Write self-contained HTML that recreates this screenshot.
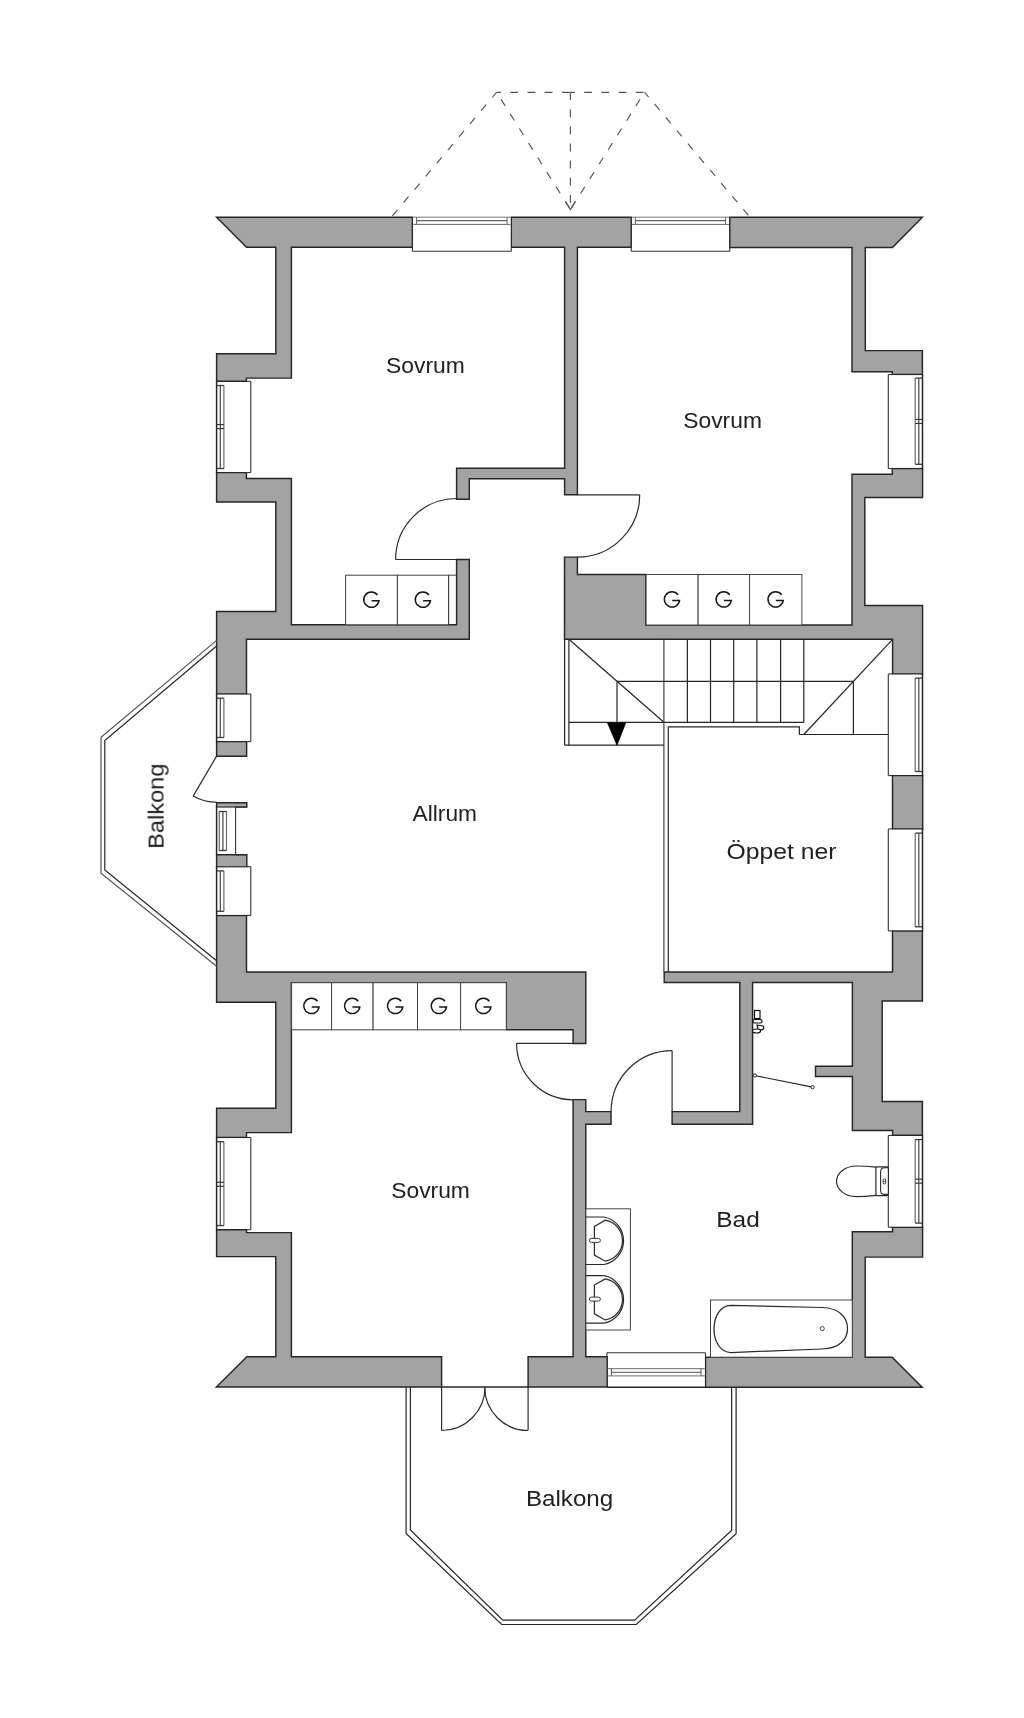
<!DOCTYPE html>
<html><head><meta charset="utf-8"><title>Floor plan</title>
<style>html,body{margin:0;padding:0;background:#fff;width:1024px;height:1718px;overflow:hidden}svg{display:block}</style>
</head><body>
<svg width="1024" height="1718" viewBox="0 0 1024 1718"><path d="M922.7 828.9 L922.7 775.6 L892.5 775.6 L892.5 828.9Z M852 474.2 L852 625 L645.8 625 L645.8 574.5 L577.4 574.5 L577.4 557.1 L564.5 557.1 L564.5 639.3 L892.6 639.3 L892.6 673.9 L922.6 673.9 L922.6 605.5 L864.8 605.5 L864.8 497.5 L922.6 497.5 L922.6 468.5 L892.3 468.5 L892.3 474.2Z M852.3 1231.8 L852.3 1357.2 L705.5 1357.2 L705.5 1387.2 L922.2 1387.2 L892.2 1357.2 L865.2 1357.2 L865.2 1257.1 L922.6 1257.1 L922.6 1227.2 L892.5 1227.2 L892.5 1231.8Z M739.8 982.5 L739.8 1111.6 L672.1 1111.6 L672.1 1124.3 L752.6 1124.3 L752.6 982.5 L852.4 982.5 L852.4 1066.2 L815.5 1066.2 L815.5 1076.5 L852.4 1076.5 L852.4 1130.5 L892.6 1130.5 L892.6 1135.3 L922.4 1135.3 L922.4 1101.5 L882.2 1101.5 L882.2 1001 L922.4 1001 L922.4 930.9 L892.5 930.9 L892.5 971.9 L664.2 971.9 L664.2 982.5Z M852 371.7 L892.3 371.7 L892.3 374.5 L922.4 374.5 L922.4 350.6 L865.3 350.6 L865.3 247.4 L892.5 247.4 L922.3 217.2 L729.8 217.2 L729.8 247.4 L852 247.4Z M456.6 499.2 L469.3 499.2 L469.3 478.7 L564.6 478.7 L564.6 494.8 L577.4 494.8 L577.4 247.3 L631.2 247.3 L631.2 217.2 L511.3 217.2 L511.3 247.3 L564.6 247.3 L564.6 468.3 L456.6 468.3Z M585.8 1124.3 L611 1124.3 L611 1111.6 L585.8 1111.6 L585.8 1099.6 L573.1 1099.6 L573.1 1356.8 L528.1 1356.8 L528.1 1387 L607.2 1387 L607.2 1356.8 L585.8 1356.8Z M216.6 1137.5 L246.5 1137.5 L246.5 1132.6 L291.4 1132.6 L291.4 982.7 L506.3 982.7 L506.3 1029.8 L573.1 1029.8 L573.1 1043.5 L585.8 1043.5 L585.8 971.9 L246.5 971.9 L246.5 915.4 L216.6 915.4 L216.6 1002.3 L275.8 1002.3 L275.8 1108.2 L216.6 1108.2Z M216.6 502 L275.8 502 L275.8 611.5 L216.6 611.5 L216.6 694 L246.5 694 L246.5 639.3 L469.3 639.3 L469.3 559.5 L456.6 559.5 L456.6 624.8 L291.4 624.8 L291.4 478.4 L246.4 478.4 L246.4 472.6 L216.6 472.6Z M216.6 1256.6 L275.8 1256.6 L275.8 1356.8 L246.9 1356.8 L216.4 1387 L441.6 1387 L441.6 1356.8 L291.4 1356.8 L291.4 1232.6 L246.5 1232.6 L246.5 1229.7 L216.6 1229.7Z M216.6 381.3 L246.4 381.3 L246.4 378.1 L291.4 378.1 L291.4 247.3 L412.4 247.3 L412.4 217.2 L216.6 217.2 L246.5 247.3 L275.8 247.3 L275.8 353.7 L216.6 353.7Z M216.6 807.1 L246.8 807.1 L246.8 802.7 L216.6 802.7Z M216.6 866.9 L246.8 866.9 L246.8 854.8 L216.6 854.8Z M216.6 756.2 L246.6 756.2 L246.6 741.6 L216.6 741.6Z" fill="#a3a3a3" fill-rule="evenodd" stroke="#262626" stroke-width="1.45" stroke-linejoin="miter" stroke-miterlimit="10"/>
<rect x="413.2" y="217.9" width="97.3" height="33.4" fill="#fff"/>
<line x1="412.4" y1="247.3" x2="412.4" y2="251.3" stroke="#333" stroke-width="1.1"/>
<line x1="511.3" y1="247.3" x2="511.3" y2="251.3" stroke="#333" stroke-width="1.1"/>
<line x1="412.4" y1="251.3" x2="511.3" y2="251.3" stroke="#333" stroke-width="1.1"/>
<line x1="413.2" y1="217.2" x2="510.5" y2="217.2" stroke="#777" stroke-width="1.0"/>
<line x1="416.6" y1="220.6" x2="507.1" y2="220.6" stroke="#666" stroke-width="1.1"/>
<line x1="413.2" y1="224.4" x2="510.5" y2="224.4" stroke="#6a6a6a" stroke-width="1.0"/>
<line x1="416.6" y1="217.2" x2="416.6" y2="224.4" stroke="#666" stroke-width="1.0"/>
<line x1="507.1" y1="217.2" x2="507.1" y2="224.4" stroke="#666" stroke-width="1.0"/>
<rect x="632" y="217.9" width="97" height="33.4" fill="#fff"/>
<line x1="631.2" y1="247.3" x2="631.2" y2="251.3" stroke="#333" stroke-width="1.1"/>
<line x1="729.8" y1="247.3" x2="729.8" y2="251.3" stroke="#333" stroke-width="1.1"/>
<line x1="631.2" y1="251.3" x2="729.8" y2="251.3" stroke="#333" stroke-width="1.1"/>
<line x1="632" y1="217.2" x2="729" y2="217.2" stroke="#777" stroke-width="1.0"/>
<line x1="635.4" y1="220.6" x2="725.6" y2="220.6" stroke="#666" stroke-width="1.1"/>
<line x1="632" y1="224.4" x2="729" y2="224.4" stroke="#6a6a6a" stroke-width="1.0"/>
<line x1="635.4" y1="217.2" x2="635.4" y2="224.4" stroke="#666" stroke-width="1.0"/>
<line x1="725.6" y1="217.2" x2="725.6" y2="224.4" stroke="#666" stroke-width="1.0"/>
<rect x="217.4" y="382.1" width="32.6" height="89.7" fill="#fff"/>
<line x1="246.5" y1="381.3" x2="250.8" y2="381.3" stroke="#333" stroke-width="1.1"/>
<line x1="246.5" y1="472.6" x2="250.8" y2="472.6" stroke="#333" stroke-width="1.1"/>
<line x1="250.8" y1="381.3" x2="250.8" y2="472.6" stroke="#333" stroke-width="1.1"/>
<line x1="220.3" y1="385.5" x2="220.3" y2="468.5" stroke="#444" stroke-width="1.2"/>
<line x1="223.9" y1="385.5" x2="223.9" y2="468.5" stroke="#666" stroke-width="1.15"/>
<line x1="216.6" y1="385.5" x2="223.9" y2="385.5" stroke="#3a3a3a" stroke-width="1.3"/>
<line x1="216.6" y1="468.5" x2="223.9" y2="468.5" stroke="#3a3a3a" stroke-width="1.3"/>
<line x1="216.6" y1="424.6" x2="223.9" y2="424.6" stroke="#3a3a3a" stroke-width="1.2"/>
<line x1="216.6" y1="428.6" x2="223.9" y2="428.6" stroke="#3a3a3a" stroke-width="1.2"/>
<line x1="216.6" y1="380.8" x2="216.6" y2="473.1" stroke="#262626" stroke-width="1.5"/>
<rect x="217.4" y="694.8" width="32.6" height="46" fill="#fff"/>
<line x1="246.5" y1="694" x2="250.8" y2="694" stroke="#333" stroke-width="1.1"/>
<line x1="246.5" y1="741.6" x2="250.8" y2="741.6" stroke="#333" stroke-width="1.1"/>
<line x1="250.8" y1="694" x2="250.8" y2="741.6" stroke="#333" stroke-width="1.1"/>
<line x1="220.3" y1="698.2" x2="220.3" y2="737.5" stroke="#444" stroke-width="1.2"/>
<line x1="223.9" y1="698.2" x2="223.9" y2="737.5" stroke="#666" stroke-width="1.15"/>
<line x1="216.6" y1="698.2" x2="223.9" y2="698.2" stroke="#3a3a3a" stroke-width="1.3"/>
<line x1="216.6" y1="737.5" x2="223.9" y2="737.5" stroke="#3a3a3a" stroke-width="1.3"/>
<line x1="216.6" y1="693.5" x2="216.6" y2="742.1" stroke="#262626" stroke-width="1.5"/>
<rect x="217.4" y="807.8" width="17.4" height="46.2" fill="#fff"/>
<line x1="246.5" y1="807" x2="235.6" y2="807" stroke="#333" stroke-width="1.1"/>
<line x1="246.5" y1="854.8" x2="235.6" y2="854.8" stroke="#333" stroke-width="1.1"/>
<line x1="235.6" y1="807" x2="235.6" y2="854.8" stroke="#333" stroke-width="1.1"/>
<line x1="222.9" y1="811.5" x2="222.9" y2="850.5" stroke="#444" stroke-width="1.2"/>
<line x1="226.5" y1="811.5" x2="226.5" y2="850.5" stroke="#666" stroke-width="1.15"/>
<line x1="219.2" y1="811.5" x2="219.2" y2="850.5" stroke="#555" stroke-width="1.1"/>
<line x1="219.2" y1="811.5" x2="226.5" y2="811.5" stroke="#3a3a3a" stroke-width="1.3"/>
<line x1="219.2" y1="850.5" x2="226.5" y2="850.5" stroke="#3a3a3a" stroke-width="1.3"/>
<line x1="216.6" y1="806.5" x2="216.6" y2="855.3" stroke="#262626" stroke-width="1.5"/>
<rect x="217.4" y="867.5" width="32.6" height="47.1" fill="#fff"/>
<line x1="246.5" y1="866.7" x2="250.8" y2="866.7" stroke="#333" stroke-width="1.1"/>
<line x1="246.5" y1="915.4" x2="250.8" y2="915.4" stroke="#333" stroke-width="1.1"/>
<line x1="250.8" y1="866.7" x2="250.8" y2="915.4" stroke="#333" stroke-width="1.1"/>
<line x1="220.3" y1="870.9" x2="220.3" y2="911.3" stroke="#444" stroke-width="1.2"/>
<line x1="223.9" y1="870.9" x2="223.9" y2="911.3" stroke="#666" stroke-width="1.15"/>
<line x1="216.6" y1="870.9" x2="223.9" y2="870.9" stroke="#3a3a3a" stroke-width="1.3"/>
<line x1="216.6" y1="911.3" x2="223.9" y2="911.3" stroke="#3a3a3a" stroke-width="1.3"/>
<line x1="216.6" y1="866.2" x2="216.6" y2="915.9" stroke="#262626" stroke-width="1.5"/>
<rect x="217.4" y="1138.3" width="32.6" height="90.6" fill="#fff"/>
<line x1="246.5" y1="1137.5" x2="250.8" y2="1137.5" stroke="#333" stroke-width="1.1"/>
<line x1="246.5" y1="1229.7" x2="250.8" y2="1229.7" stroke="#333" stroke-width="1.1"/>
<line x1="250.8" y1="1137.5" x2="250.8" y2="1229.7" stroke="#333" stroke-width="1.1"/>
<line x1="220.3" y1="1141.7" x2="220.3" y2="1225.6" stroke="#444" stroke-width="1.2"/>
<line x1="223.9" y1="1141.7" x2="223.9" y2="1225.6" stroke="#666" stroke-width="1.15"/>
<line x1="216.6" y1="1141.7" x2="223.9" y2="1141.7" stroke="#3a3a3a" stroke-width="1.3"/>
<line x1="216.6" y1="1225.6" x2="223.9" y2="1225.6" stroke="#3a3a3a" stroke-width="1.3"/>
<line x1="216.6" y1="1182.3" x2="223.9" y2="1182.3" stroke="#3a3a3a" stroke-width="1.2"/>
<line x1="216.6" y1="1186.3" x2="223.9" y2="1186.3" stroke="#3a3a3a" stroke-width="1.2"/>
<line x1="216.6" y1="1137" x2="216.6" y2="1230.2" stroke="#262626" stroke-width="1.5"/>
<rect x="889.1" y="375.3" width="32.6" height="92.4" fill="#fff"/>
<line x1="892.6" y1="374.5" x2="888.3" y2="374.5" stroke="#333" stroke-width="1.1"/>
<line x1="892.6" y1="468.5" x2="888.3" y2="468.5" stroke="#333" stroke-width="1.1"/>
<line x1="888.3" y1="374.5" x2="888.3" y2="468.5" stroke="#333" stroke-width="1.1"/>
<line x1="918.8" y1="378.1" x2="918.8" y2="464.3" stroke="#444" stroke-width="1.2"/>
<line x1="915.2" y1="378.1" x2="915.2" y2="464.3" stroke="#666" stroke-width="1.15"/>
<line x1="922.5" y1="378.1" x2="915.2" y2="378.1" stroke="#3a3a3a" stroke-width="1.3"/>
<line x1="922.5" y1="464.3" x2="915.2" y2="464.3" stroke="#3a3a3a" stroke-width="1.3"/>
<line x1="922.5" y1="419.45" x2="915.2" y2="419.45" stroke="#3a3a3a" stroke-width="1.2"/>
<line x1="922.5" y1="423.45" x2="915.2" y2="423.45" stroke="#3a3a3a" stroke-width="1.2"/>
<line x1="922.5" y1="374" x2="922.5" y2="469" stroke="#262626" stroke-width="1.5"/>
<rect x="889.1" y="674.7" width="32.6" height="100.1" fill="#fff"/>
<line x1="892.6" y1="673.9" x2="888.3" y2="673.9" stroke="#333" stroke-width="1.1"/>
<line x1="892.6" y1="775.6" x2="888.3" y2="775.6" stroke="#333" stroke-width="1.1"/>
<line x1="888.3" y1="673.9" x2="888.3" y2="775.6" stroke="#333" stroke-width="1.1"/>
<line x1="918.8" y1="678.1" x2="918.8" y2="771.5" stroke="#444" stroke-width="1.2"/>
<line x1="915.2" y1="678.1" x2="915.2" y2="771.5" stroke="#666" stroke-width="1.15"/>
<line x1="922.5" y1="678.1" x2="915.2" y2="678.1" stroke="#3a3a3a" stroke-width="1.3"/>
<line x1="922.5" y1="771.5" x2="915.2" y2="771.5" stroke="#3a3a3a" stroke-width="1.3"/>
<line x1="922.5" y1="673.4" x2="922.5" y2="776.1" stroke="#262626" stroke-width="1.5"/>
<rect x="889.1" y="829.7" width="32.6" height="100.4" fill="#fff"/>
<line x1="892.6" y1="828.9" x2="888.3" y2="828.9" stroke="#333" stroke-width="1.1"/>
<line x1="892.6" y1="930.9" x2="888.3" y2="930.9" stroke="#333" stroke-width="1.1"/>
<line x1="888.3" y1="828.9" x2="888.3" y2="930.9" stroke="#333" stroke-width="1.1"/>
<line x1="918.8" y1="833.1" x2="918.8" y2="926.8" stroke="#444" stroke-width="1.2"/>
<line x1="915.2" y1="833.1" x2="915.2" y2="926.8" stroke="#666" stroke-width="1.15"/>
<line x1="922.5" y1="833.1" x2="915.2" y2="833.1" stroke="#3a3a3a" stroke-width="1.3"/>
<line x1="922.5" y1="926.8" x2="915.2" y2="926.8" stroke="#3a3a3a" stroke-width="1.3"/>
<line x1="922.5" y1="828.4" x2="922.5" y2="931.4" stroke="#262626" stroke-width="1.5"/>
<rect x="889.1" y="1136.2" width="32.6" height="90.2" fill="#fff"/>
<line x1="892.6" y1="1135.4" x2="888.3" y2="1135.4" stroke="#333" stroke-width="1.1"/>
<line x1="892.6" y1="1227.2" x2="888.3" y2="1227.2" stroke="#333" stroke-width="1.1"/>
<line x1="888.3" y1="1135.4" x2="888.3" y2="1227.2" stroke="#333" stroke-width="1.1"/>
<line x1="918.8" y1="1139.6" x2="918.8" y2="1223.1" stroke="#444" stroke-width="1.2"/>
<line x1="915.2" y1="1139.6" x2="915.2" y2="1223.1" stroke="#666" stroke-width="1.15"/>
<line x1="922.5" y1="1139.6" x2="915.2" y2="1139.6" stroke="#3a3a3a" stroke-width="1.3"/>
<line x1="922.5" y1="1223.1" x2="915.2" y2="1223.1" stroke="#3a3a3a" stroke-width="1.3"/>
<line x1="922.5" y1="1179.2" x2="915.2" y2="1179.2" stroke="#3a3a3a" stroke-width="1.2"/>
<line x1="922.5" y1="1183.2" x2="915.2" y2="1183.2" stroke="#3a3a3a" stroke-width="1.2"/>
<line x1="922.5" y1="1134.9" x2="922.5" y2="1227.7" stroke="#262626" stroke-width="1.5"/>
<rect x="608.0" y="1353.5" width="96.7" height="33" fill="#fff"/>
<line x1="606.9" y1="1352.8" x2="705.5" y2="1352.8" stroke="#333" stroke-width="1.1"/>
<line x1="606.9" y1="1352.8" x2="606.9" y2="1357.2" stroke="#333" stroke-width="1.1"/>
<line x1="705.5" y1="1352.8" x2="705.5" y2="1357.2" stroke="#333" stroke-width="1.1"/>
<line x1="607.6" y1="1368.7" x2="704.8" y2="1368.7" stroke="#6a6a6a" stroke-width="1.0"/>
<line x1="611.4" y1="1372.2" x2="701" y2="1372.2" stroke="#555" stroke-width="1.1"/>
<line x1="607.6" y1="1375.9" x2="704.8" y2="1375.9" stroke="#6a6a6a" stroke-width="1.0"/>
<line x1="611.4" y1="1368.7" x2="611.4" y2="1375.9" stroke="#555" stroke-width="1.0"/>
<line x1="701" y1="1368.7" x2="701" y2="1375.9" stroke="#555" stroke-width="1.0"/>
<line x1="607.2" y1="1387.2" x2="705.5" y2="1387.2" stroke="#262626" stroke-width="1.5"/>
<path d="M456.6 498.5 A61 61 0 0 0 395.6 559.5" fill="none" stroke="#2c2c2c" stroke-width="1.2"/>
<line x1="395.6" y1="559.5" x2="456.6" y2="559.5" stroke="#2c2c2c" stroke-width="1.2"/>
<line x1="577.4" y1="494.8" x2="639.7" y2="494.8" stroke="#2c2c2c" stroke-width="1.2"/>
<path d="M639.7 494.8 A62.3 62.3 0 0 1 577.4 557.1" fill="none" stroke="#2c2c2c" stroke-width="1.2"/>
<line x1="216.6" y1="756.1" x2="193.3" y2="795.9" stroke="#2c2c2c" stroke-width="1.2"/>
<path d="M193.3 795.9 A46.1 46.1 0 0 0 216.6 802.2" fill="none" stroke="#2c2c2c" stroke-width="1.2"/>
<line x1="516.6" y1="1043.3" x2="573.1" y2="1043.3" stroke="#2c2c2c" stroke-width="1.2"/>
<path d="M516.6 1043.3 A56.5 56.5 0 0 0 573.1 1099.8" fill="none" stroke="#2c2c2c" stroke-width="1.2"/>
<line x1="672.1" y1="1050.6" x2="672.1" y2="1111.6" stroke="#2c2c2c" stroke-width="1.2"/>
<path d="M672.1 1050.6 A61 61 0 0 0 611.1 1111.6" fill="none" stroke="#2c2c2c" stroke-width="1.2"/>
<line x1="441.6" y1="1387" x2="528.1" y2="1387" stroke="#262626" stroke-width="1.3"/>
<line x1="441.6" y1="1387" x2="441.6" y2="1430.5" stroke="#2c2c2c" stroke-width="1.2"/>
<path d="M441.6 1430.5 A43.4 43.4 0 0 0 485 1387" fill="none" stroke="#2c2c2c" stroke-width="1.2"/>
<line x1="528.1" y1="1387" x2="528.1" y2="1430.5" stroke="#2c2c2c" stroke-width="1.2"/>
<path d="M528.1 1430.5 A43.4 43.4 0 0 1 484.7 1387" fill="none" stroke="#2c2c2c" stroke-width="1.2"/>
<line x1="564.6" y1="639.3" x2="564.6" y2="745.2" stroke="#262626" stroke-width="1.2"/>
<line x1="568.9" y1="639.3" x2="568.9" y2="745.2" stroke="#262626" stroke-width="1.2"/>
<line x1="568.9" y1="639.3" x2="663.9" y2="722.3" stroke="#262626" stroke-width="1.2"/>
<line x1="617" y1="681.4" x2="853.4" y2="681.4" stroke="#262626" stroke-width="1.2"/>
<line x1="617" y1="681.4" x2="617" y2="722.3" stroke="#262626" stroke-width="1.2"/>
<line x1="568.9" y1="722.3" x2="803.8" y2="722.3" stroke="#262626" stroke-width="1.2"/>
<line x1="564.6" y1="745.2" x2="663.9" y2="745.2" stroke="#262626" stroke-width="1.2"/>
<polygon points="607.6,723 625.6,723 617,745.2" fill="#000" stroke="#000" stroke-width="0.8"/>
<line x1="687.4" y1="639.3" x2="687.4" y2="722.3" stroke="#262626" stroke-width="1.2"/>
<line x1="710.5" y1="639.3" x2="710.5" y2="722.3" stroke="#262626" stroke-width="1.2"/>
<line x1="733.7" y1="639.3" x2="733.7" y2="722.3" stroke="#262626" stroke-width="1.2"/>
<line x1="756.9" y1="639.3" x2="756.9" y2="722.3" stroke="#262626" stroke-width="1.2"/>
<line x1="780.6" y1="639.3" x2="780.6" y2="722.3" stroke="#262626" stroke-width="1.2"/>
<line x1="663.9" y1="639.3" x2="663.9" y2="971.9" stroke="#444" stroke-width="1.2"/>
<line x1="803.8" y1="639.3" x2="803.8" y2="722.3" stroke="#262626" stroke-width="1.2"/>
<line x1="892.6" y1="639.3" x2="803.8" y2="734.5" stroke="#262626" stroke-width="1.2"/>
<line x1="853.4" y1="681.4" x2="853.4" y2="734.5" stroke="#262626" stroke-width="1.2"/>
<line x1="799.4" y1="734.5" x2="888.3" y2="734.5" stroke="#262626" stroke-width="1.2"/>
<polyline points="668.3,971.9 668.3,726.9 799.4,726.9 799.4,734.5" fill="none" stroke="#262626" stroke-width="1.2"/>
<rect x="345.6" y="575.2" width="51.8" height="49.6" fill="#fff" stroke="#444" stroke-width="1.0"/>
<rect x="397.4" y="575.2" width="51.2" height="49.6" fill="#fff" stroke="#444" stroke-width="1.0"/>
<line x1="448.6" y1="575.2" x2="456.6" y2="575.2" stroke="#444" stroke-width="1.0"/>
<line x1="448.6" y1="575.2" x2="448.6" y2="624.8" stroke="#444" stroke-width="1.0"/>
<rect x="646.1" y="574.5" width="52" height="50.5" fill="#fff" stroke="#444" stroke-width="1.0"/>
<rect x="698.1" y="574.5" width="51.5" height="50.5" fill="#fff" stroke="#444" stroke-width="1.0"/>
<rect x="749.6" y="574.5" width="52.3" height="50.5" fill="#fff" stroke="#444" stroke-width="1.0"/>
<rect x="291.6" y="982.7" width="40" height="47.1" fill="#fff" stroke="#444" stroke-width="1.0"/>
<rect x="331.6" y="982.7" width="41.5" height="47.1" fill="#fff" stroke="#444" stroke-width="1.0"/>
<rect x="373.1" y="982.7" width="44.4" height="47.1" fill="#fff" stroke="#444" stroke-width="1.0"/>
<rect x="417.5" y="982.7" width="43.1" height="47.1" fill="#fff" stroke="#444" stroke-width="1.0"/>
<rect x="460.6" y="982.7" width="45.7" height="47.1" fill="#fff" stroke="#444" stroke-width="1.0"/>
<polyline points="216.6,640.4 101,737.3 101,873.3 216.6,966.2" fill="none" stroke="#555" stroke-width="1.2"/>
<polyline points="216.6,646 104.8,740.5 104.8,870 216.6,960.7" fill="none" stroke="#262626" stroke-width="1.2"/>
<polyline points="406.1,1387 406.1,1533.4 501.7,1624.5 636.3,1624.5 736.1,1533.8 736.1,1387" fill="none" stroke="#262626" stroke-width="1.2"/>
<polyline points="410.4,1387 410.4,1530 502.8,1620.2 634.6,1620.2 731.6,1530.5 731.6,1387" fill="none" stroke="#262626" stroke-width="1.2"/>
<line x1="496.6" y1="92.3" x2="570.4" y2="92.3" stroke="#555" stroke-width="1.15" stroke-dasharray="7.8 9.4" stroke-dashoffset="3.5"/>
<line x1="570.4" y1="92.3" x2="644.6" y2="92.3" stroke="#555" stroke-width="1.15" stroke-dasharray="7.8 9.4" stroke-dashoffset="3.4"/>
<line x1="570.4" y1="92.3" x2="570.4" y2="209.5" stroke="#555" stroke-width="1.15" stroke-dasharray="7.8 9.3" stroke-dashoffset="0"/>
<line x1="496.6" y1="92.3" x2="391.7" y2="216.7" stroke="#555" stroke-width="1.15" stroke-dasharray="7.8 9.4" stroke-dashoffset="1.0"/>
<line x1="496.6" y1="92.3" x2="570.4" y2="209.5" stroke="#555" stroke-width="1.15" stroke-dasharray="7.8 9.4" stroke-dashoffset="8.9"/>
<line x1="644.6" y1="92.3" x2="570.4" y2="209.5" stroke="#555" stroke-width="1.15" stroke-dasharray="7.8 9.4" stroke-dashoffset="8.6"/>
<line x1="644.6" y1="92.3" x2="749.5" y2="216.7" stroke="#555" stroke-width="1.15" stroke-dasharray="7.8 9.4" stroke-dashoffset="1.6"/>
<polyline points="565.9,202 570.4,209.5 575.2,202" fill="none" stroke="#555" stroke-width="1.2"/>
<line x1="754.6" y1="1075.5" x2="812.6" y2="1087.2" stroke="#262626" stroke-width="1.2"/>
<circle cx="755" cy="1075.5" r="1.6" fill="#fff" stroke="#262626" stroke-width="1"/>
<circle cx="812.6" cy="1087.2" r="1.6" fill="#fff" stroke="#262626" stroke-width="1"/>
<rect x="754.5" y="1010.5" width="5.5" height="8" fill="#fff" stroke="#111" stroke-width="1.2"/>
<rect x="753" y="1019.5" width="9" height="3.5" rx="1.5" fill="#fff" stroke="#111" stroke-width="1.2"/>
<path d="M757 1025 L763 1026 Q765 1028 762 1030 L758 1029 Z" fill="#fff" stroke="#111" stroke-width="1.2"/>
<ellipse cx="756.5" cy="1031" rx="4" ry="2" fill="#fff" stroke="#111" stroke-width="1.2"/>
<path d="M875.7 1167.2 C868 1166.2 862 1166.0 856.5 1166.0 A20 15.3 0 0 0 856.5 1196.6 C862 1196.6 868 1196.3 875.7 1195.4" fill="#fff" stroke="#2a2a2a" stroke-width="1.2"/>
<path d="M875.9 1166.9 L887 1166.9 Q888.4 1166.9 888.4 1168.5 L888.4 1194 Q888.4 1195.6 887 1195.6 L875.9 1195.6 Z" fill="#fff" stroke="#2a2a2a" stroke-width="1.2"/>
<path d="M888.4 1167.8 L884.5 1167.8 Q880.6 1167.8 880.6 1172 L880.6 1190.2 Q880.6 1194.4 884.5 1194.4 L888.4 1194.4" fill="none" stroke="#2a2a2a" stroke-width="1.1"/>
<rect x="883.1" y="1178.9" width="2.6" height="5" rx="1.2" fill="#fff" stroke="#222" stroke-width="0.9"/>
<line x1="883.1" y1="1181.4" x2="885.7" y2="1181.4" stroke="#222" stroke-width="0.7"/>
<rect x="585.9" y="1208.8" width="44.5" height="121.2" fill="#fff" stroke="#444" stroke-width="1.0"/>
<path d="M585.9 1217 L604 1217 A24.2 24.2 0 0 1 604 1264.5 L585.9 1264.5" fill="none" stroke="#2a2a2a" stroke-width="1.2"/>
<path d="M594.4 1226.4 L605.2 1220.2 A20.8 20.8 0 0 1 605.2 1261.2 L594.4 1255.1 Z" fill="none" stroke="#2a2a2a" stroke-width="1.2"/>
<rect x="589.4" y="1238.4" width="11" height="4" rx="2" fill="#fff" stroke="#333" stroke-width="1"/>
<path d="M585.9 1275.7 L604 1275.7 A24.2 24.2 0 0 1 604 1323.2 L585.9 1323.2" fill="none" stroke="#2a2a2a" stroke-width="1.2"/>
<path d="M594.4 1285.1 L605.2 1278.9 A20.8 20.8 0 0 1 605.2 1319.9 L594.4 1313.8 Z" fill="none" stroke="#2a2a2a" stroke-width="1.2"/>
<rect x="589.4" y="1297.1" width="11" height="4" rx="2" fill="#fff" stroke="#333" stroke-width="1"/>
<rect x="710.5" y="1300" width="141.8" height="57.2" fill="#fff" stroke="#444" stroke-width="1.0"/>
<path d="M731 1305.3 L822 1307.5 C840 1308 847.5 1318 847.5 1328.5 C847.5 1339 840 1348.5 822 1349 L731 1352.5 C720 1352.5 714 1341 714 1329 C714 1317 720 1305.3 731 1305.3 Z" fill="none" stroke="#2a2a2a" stroke-width="1.25"/>
<circle cx="822.3" cy="1328.6" r="2" fill="none" stroke="#333" stroke-width="0.9"/>
<g opacity="0.995">
<text x="386" y="372.6" font-family="Liberation Sans, sans-serif" font-size="22.8" fill="#202020" textLength="78.8" lengthAdjust="spacingAndGlyphs">Sovrum</text>
<text x="683.3" y="428.1" font-family="Liberation Sans, sans-serif" font-size="22.8" fill="#202020" textLength="78.6" lengthAdjust="spacingAndGlyphs">Sovrum</text>
<text x="412.6" y="821.2" font-family="Liberation Sans, sans-serif" font-size="22.8" fill="#202020" textLength="64.4" lengthAdjust="spacingAndGlyphs">Allrum</text>
<text x="726.6" y="858.7" font-family="Liberation Sans, sans-serif" font-size="22.8" fill="#202020" textLength="109.8" lengthAdjust="spacingAndGlyphs">Öppet ner</text>
<text x="391.2" y="1197.8" font-family="Liberation Sans, sans-serif" font-size="22.8" fill="#202020" textLength="78.7" lengthAdjust="spacingAndGlyphs">Sovrum</text>
<text x="716.3" y="1227" font-family="Liberation Sans, sans-serif" font-size="22.8" fill="#202020" textLength="43.4" lengthAdjust="spacingAndGlyphs">Bad</text>
<text x="526" y="1505.6" font-family="Liberation Sans, sans-serif" font-size="22.8" fill="#202020" textLength="87.2" lengthAdjust="spacingAndGlyphs">Balkong</text>
<text x="0" y="0" font-family="Liberation Sans, sans-serif" font-size="22.8" fill="#202020" textLength="85.4" lengthAdjust="spacingAndGlyphs" transform="translate(163.6 848.9) rotate(-90)">Balkong</text>
</g>
<path d="M377.43 594.94 A7.65 7.65 0 1 0 378.98 600.65 L371.6 600.65" fill="none" stroke="#161616" stroke-width="1.45"/>
<path d="M428.93 594.94 A7.65 7.65 0 1 0 430.48 600.65 L423.1 600.65" fill="none" stroke="#161616" stroke-width="1.45"/>
<path d="M678.03 594.69 A7.65 7.65 0 1 0 679.58 600.4 L672.2 600.4" fill="none" stroke="#161616" stroke-width="1.45"/>
<path d="M729.78 594.69 A7.65 7.65 0 1 0 731.33 600.4 L723.95 600.4" fill="none" stroke="#161616" stroke-width="1.45"/>
<path d="M781.68 594.69 A7.65 7.65 0 1 0 783.23 600.4 L775.85 600.4" fill="none" stroke="#161616" stroke-width="1.45"/>
<path d="M317.53 1001.19 A7.65 7.65 0 1 0 319.08 1006.9 L311.7 1006.9" fill="none" stroke="#161616" stroke-width="1.45"/>
<path d="M358.28 1001.19 A7.65 7.65 0 1 0 359.83 1006.9 L352.45 1006.9" fill="none" stroke="#161616" stroke-width="1.45"/>
<path d="M401.23 1001.19 A7.65 7.65 0 1 0 402.78 1006.9 L395.4 1006.9" fill="none" stroke="#161616" stroke-width="1.45"/>
<path d="M444.98 1001.19 A7.65 7.65 0 1 0 446.53 1006.9 L439.15 1006.9" fill="none" stroke="#161616" stroke-width="1.45"/>
<path d="M489.38 1001.19 A7.65 7.65 0 1 0 490.93 1006.9 L483.55 1006.9" fill="none" stroke="#161616" stroke-width="1.45"/></svg>
</body></html>
